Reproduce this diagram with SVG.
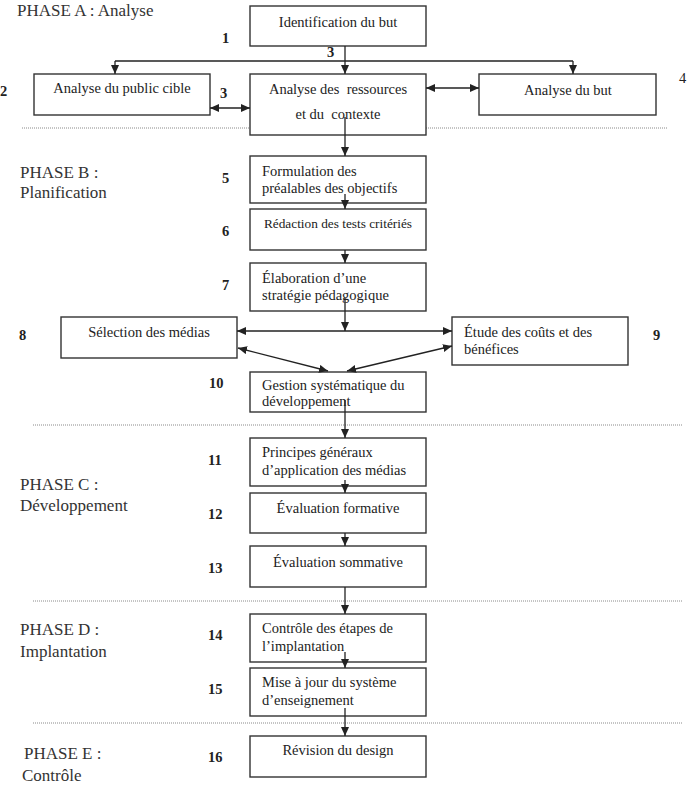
<svg xmlns="http://www.w3.org/2000/svg" width="687" height="795" viewBox="0 0 687 795">
<defs>
<marker id="ah" markerUnits="userSpaceOnUse" markerWidth="9" markerHeight="8" refX="9" refY="4" orient="auto-start-reverse" viewBox="0 0 9 8">
<path d="M0,0 L9,4 L0,8 z" fill="#222"/>
</marker>
<style>
.box{fill:#fff;stroke:#333;stroke-width:1.4}
.t{font-family:"Liberation Serif","Times New Roman",serif;font-size:14.5px;fill:#222}
.tc{text-anchor:middle}
.n{font-family:"Liberation Serif","Times New Roman",serif;font-size:14.5px;font-weight:bold;fill:#222}
.ph{font-family:"Liberation Serif","Times New Roman",serif;font-size:17px;fill:#333}
.c{fill:none;stroke:#222;stroke-width:1.3}
.a{marker-end:url(#ah)}
.d{marker-start:url(#ah);marker-end:url(#ah)}
.sep{stroke:#8a8a8a;stroke-width:1;stroke-dasharray:1 1}
</style>
</defs>
<rect width="687" height="795" fill="#fff"/>

<g id="separators">
<line class="sep" x1="22" y1="128" x2="668" y2="128"/>
<line class="sep" x1="33" y1="425" x2="682" y2="425"/>
<line class="sep" x1="33" y1="601" x2="682" y2="601"/>
<line class="sep" x1="33" y1="723" x2="682" y2="723"/>
</g>

<g id="phases">
<text class="ph" x="17" y="16">PHASE A : Analyse</text>
<text class="ph" x="20" y="178">PHASE B :</text>
<text class="ph" x="20" y="198">Planification</text>
<text class="ph" x="20" y="490">PHASE C :</text>
<text class="ph" x="20" y="511">Développement</text>
<text class="ph" x="20" y="635">PHASE D :</text>
<text class="ph" x="20" y="657">Implantation</text>
<text class="ph" x="24" y="759">PHASE E :</text>
<text class="ph" x="22" y="781">Contrôle</text>
</g>

<g id="numbers">
<text class="n" x="222" y="43">1</text>
<text class="n" x="327" y="57">3</text>
<text class="n" x="0" y="96">2</text>
<text class="n" x="220" y="98">3</text>
<text class="n" x="679" y="83" style="font-weight:normal">4</text>
<text class="n" x="222" y="183">5</text>
<text class="n" x="222" y="236">6</text>
<text class="n" x="222" y="290">7</text>
<text class="n" x="19" y="340">8</text>
<text class="n" x="653" y="340">9</text>
<text class="n" x="209" y="388">10</text>
<text class="n" x="208" y="465">11</text>
<text class="n" x="208" y="519">12</text>
<text class="n" x="208" y="573">13</text>
<text class="n" x="208" y="640">14</text>
<text class="n" x="208" y="694">15</text>
<text class="n" x="208" y="762">16</text>
</g>

<g id="n1"><rect class="box" x="250" y="6" width="176" height="40"/><text class="t tc" x="338" y="27">Identification du but</text></g>
<g id="n2"><rect class="box" x="34" y="74" width="176" height="41"/><text class="t tc" x="122" y="93">Analyse du public cible</text></g>
<g id="n3"><rect class="box" x="250" y="74" width="176" height="61"/><text class="t tc" x="338" y="94" xml:space="preserve">Analyse des  ressources</text><text class="t tc" x="338" y="119" xml:space="preserve">et du  contexte</text></g>
<g id="n4"><rect class="box" x="479" y="74" width="177" height="41"/><text class="t tc" x="568" y="95">Analyse du but</text></g>
<g id="n5"><rect class="box" x="250" y="156" width="176" height="47"/><text class="t" x="262" y="176">Formulation des</text><text class="t" x="262" y="193">préalables des objectifs</text></g>
<g id="n6"><rect class="box" x="250" y="209" width="176" height="41"/><text class="t tc" x="338" y="228" style="font-size:13.3px">Rédaction des tests critériés</text></g>
<g id="n7"><rect class="box" x="250" y="263" width="176" height="48"/><text class="t" x="262" y="283">Élaboration d’une</text><text class="t" x="262" y="300">stratégie pédagogique</text></g>
<g id="n8"><rect class="box" x="61" y="317" width="176" height="41"/><text class="t tc" x="149" y="337">Sélection des médias</text></g>
<g id="n9"><rect class="box" x="452" y="317" width="176" height="48"/><text class="t" x="464" y="337">Étude des coûts et des</text><text class="t" x="464" y="354">bénéfices</text></g>
<g id="n10"><rect class="box" x="250" y="372" width="176" height="40"/><text class="t" x="262" y="390">Gestion systématique du</text><text class="t" x="262" y="406">développement</text></g>
<g id="n11"><rect class="box" x="250" y="438" width="176" height="48"/><text class="t" x="262" y="457">Principes généraux</text><text class="t" x="262" y="475">d’application des médias</text></g>
<g id="n12"><rect class="box" x="250" y="493" width="176" height="40"/><text class="t tc" x="338" y="513">Évaluation formative</text></g>
<g id="n13"><rect class="box" x="250" y="546" width="176" height="41"/><text class="t tc" x="338" y="567">Évaluation sommative</text></g>
<g id="n14"><rect class="box" x="250" y="614" width="176" height="48"/><text class="t" x="262" y="633">Contrôle des étapes de</text><text class="t" x="262" y="651">l’implantation</text></g>
<g id="n15"><rect class="box" x="250" y="668" width="176" height="48"/><text class="t" x="262" y="687">Mise à jour du système</text><text class="t" x="262" y="705">d’enseignement</text></g>
<g id="n16"><rect class="box" x="250" y="736" width="176" height="41"/><text class="t tc" x="338" y="755">Révision du design</text></g>

<g id="connectors">
<line class="c a" x1="345" y1="46" x2="345" y2="74"/>
<line class="c" x1="115" y1="61" x2="573" y2="61"/>
<line class="c a" x1="115" y1="61" x2="115" y2="74"/>
<line class="c a" x1="573" y1="61" x2="573" y2="74"/>
<line class="c d" x1="210" y1="108" x2="250" y2="108"/>
<line class="c d" x1="426" y1="88" x2="479" y2="88"/>
<line class="c a" x1="345" y1="117" x2="345" y2="156"/>
<line class="c a" x1="345" y1="194" x2="345" y2="209"/>
<line class="c a" x1="345" y1="250" x2="345" y2="263"/>
<line class="c a" x1="345" y1="298" x2="345" y2="331"/>
<line class="c d" x1="237" y1="331" x2="452" y2="331"/>
<line class="c d" x1="238" y1="348" x2="328" y2="371"/>
<line class="c d" x1="452" y1="346" x2="347" y2="371"/>
<line class="c a" x1="345" y1="400" x2="345" y2="438"/>
<line class="c a" x1="345" y1="480" x2="345" y2="493"/>
<line class="c a" x1="345" y1="533" x2="345" y2="546"/>
<line class="c a" x1="345" y1="587" x2="345" y2="614"/>
<line class="c a" x1="345" y1="652" x2="345" y2="668"/>
<line class="c a" x1="345" y1="708" x2="345" y2="736"/>
</g>
</svg>
